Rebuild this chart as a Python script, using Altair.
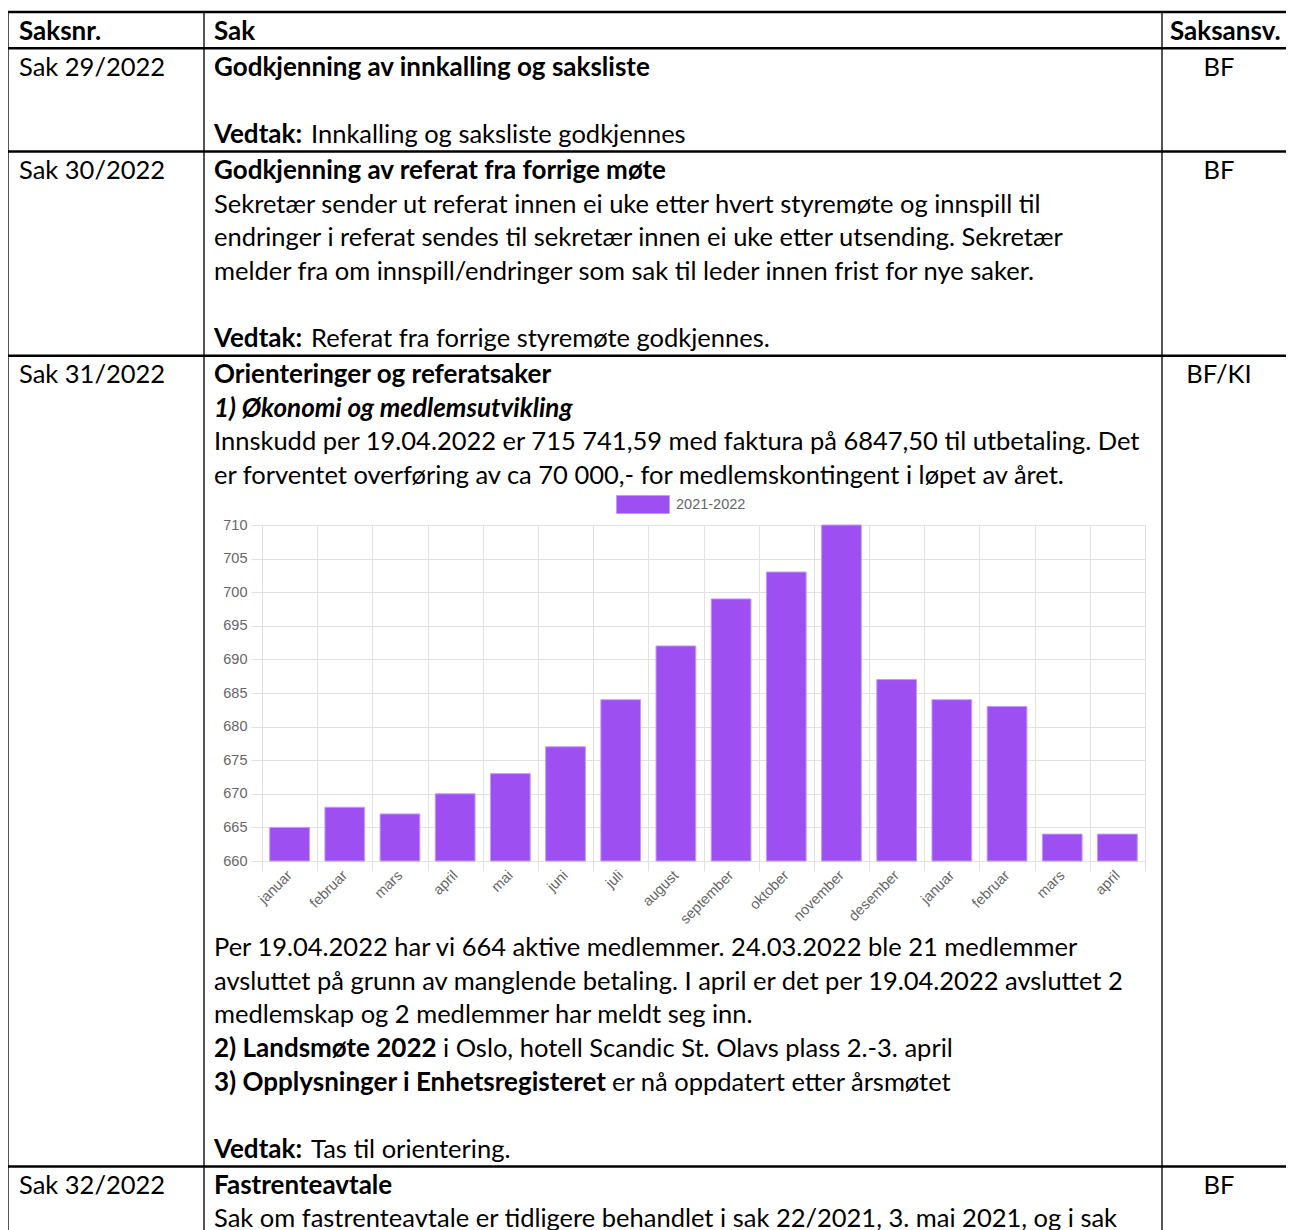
import altair as alt
import pandas as pd

# ------------------------------------------------------------------
# Chart data: members per month (bar chart in the minutes)
# ------------------------------------------------------------------
months = ["januar", "februar", "mars", "april", "mai", "juni", "juli", "august",
          "september", "oktober", "november", "desember",
          "januar", "februar", "mars", "april"]
years = [2021] * 12 + [2022] * 4
members = [665, 668, 667, 670, 673, 677, 684, 692, 699, 703, 710, 687, 684, 683, 664, 664]
series_name = "2021-2022"
y_tick_values = [660, 665, 670, 675, 680, 685, 690, 695, 700, 705, 710]

# ------------------------------------------------------------------
# Document text (table of the minutes)
# ------------------------------------------------------------------
header = ["Saksnr.", "Sak", "Saksansv."]
case_numbers = ["Sak 29/2022", "Sak 30/2022", "Sak 31/2022", "Sak 32/2022"]
case_owners = ["BF", "BF", "BF/KI", "BF"]

row1_lines = [
    [("Godkjenning av innkalling og saksliste", "b")],
    [],
    [("Vedtak:", "b"), ("Innkalling og saksliste godkjennes", "n")],
]
row2_lines = [
    [("Godkjenning av referat fra forrige møte", "b")],
    [("Sekretær sender ut referat innen ei uke etter hvert styremøte og innspill til", "n")],
    [("endringer i referat sendes til sekretær innen ei uke etter utsending. Sekretær", "n")],
    [("melder fra om innspill/endringer som sak til leder innen frist for nye saker.", "n")],
    [],
    [("Vedtak:", "b"), ("Referat fra forrige styremøte godkjennes.", "n")],
]
row3_lines = [
    [("Orienteringer og referatsaker", "b")],
    [("1) Økonomi og medlemsutvikling", "bi")],
    [("Innskudd per 19.04.2022 er 715 741,59 med faktura på 6847,50 til utbetaling. Det", "n")],
    [("er forventet overføring av ca 70 000,- for medlemskontingent i løpet av året.", "n")],
    "CHART",
    [("Per 19.04.2022 har vi 664 aktive medlemmer. 24.03.2022 ble 21 medlemmer", "n")],
    [("avsluttet på grunn av manglende betaling. I april er det per 19.04.2022 avsluttet 2", "n")],
    [("medlemskap og 2 medlemmer har meldt seg inn.", "n")],
    [("2) Landsmøte 2022", "b"), ("i Oslo, hotell Scandic St. Olavs plass 2.-3. april", "n")],
    [("3) Opplysninger i Enhetsregisteret", "b"), ("er nå oppdatert etter årsmøtet", "n")],
    [],
    [("Vedtak:", "b"), ("Tas til orientering.", "n")],
]
row4_lines = [
    [("Fastrenteavtale", "b")],
    [("Sak om fastrenteavtale er tidligere behandlet i sak 22/2021, 3. mai 2021, og i sak", "n")],
]
rows = [row1_lines, row2_lines, row3_lines, row4_lines]

# ------------------------------------------------------------------
# Layout constants (page pixels)
# ------------------------------------------------------------------
PAGE_W, PAGE_H = 1294, 1230
MARGIN = 8
OX, OY = 262, 525          # plot-area origin on the page
PW, PH = 883, 336          # plot-area size
DOC_FONT = "Lato"
DOC_SIZE = 25.5
BOLD_SIZE = 26
PITCH = 33.7
BASE = 26.3
TOP_BORDER = 12
CHART_BLOCK = 438
COL_X = [8, 204, 1162]
TXT_X1, TXT_X2 = 19, 214
OWNER_CX, OWNER_HEAD_X = 1219, 1170
SEG_OFFSET = {"Vedtak:": 97, "2) Landsmøte 2022": 229,
              "3) Opplysninger i Enhetsregisteret": 398}

GRID = "#e2e2e2"
BAR = "#9d4ff1"
BAR_EDGE = "#c29bf6"
AXIS_TXT = "#666666"
AXIS_FONT = "Liberation Sans"

# ------------------------------------------------------------------
# Compute the document layout
# ------------------------------------------------------------------
texts = {"n": [], "b": [], "bi": [], "c": []}
hlines = []


def add(kind, x, y, s):
    texts[kind].append({"x": x - OX, "y": y - OY, "text": s})


hlines.append(TOP_BORDER)
top = TOP_BORDER + 1.25
yb = top + BASE
add("b", TXT_X1, yb, header[0])
add("b", TXT_X2, yb, header[1])
add("b", OWNER_HEAD_X, yb, header[2])
top += PITCH
hlines.append(top + 1.25)
top += 2.5

for r, lines in enumerate(rows):
    first = top + BASE
    add("n", TXT_X1, first, case_numbers[r])
    add("c", OWNER_CX, first, case_owners[r])
    for line in lines:
        if line == "CHART":
            top += CHART_BLOCK
            continue
        yb = top + BASE
        x = TXT_X2
        for seg_text, style in line:
            add(style, x, yb, seg_text)
            x = TXT_X2 + SEG_OFFSET.get(seg_text, 0)
        top += PITCH
    hlines.append(top + 1)
    top += 2

# ------------------------------------------------------------------
# Bar chart
# ------------------------------------------------------------------
df = pd.DataFrame({
    "period": [f"{m} {y}" for m, y in zip(months, years)],
    "members": members,
    "series": series_name,
})

bars = alt.Chart(df).mark_bar(
    width=alt.RelativeBandSize(0.72), stroke=BAR_EDGE, strokeWidth=1
).encode(
    x=alt.X("period:N", sort=None, title=None,
            scale=alt.Scale(paddingInner=0, paddingOuter=0),
            axis=alt.Axis(labelExpr="split(datum.label, ' ')[0]", labelAngle=-45,
                          labelAlign="right", labelBaseline="middle",
                          tickBand="extent", grid=True, gridColor=GRID,
                          ticks=True, tickColor=GRID, tickSize=10, domain=False,
                          labelPadding=2, labelFont=AXIS_FONT, labelFontSize=14.5,
                          labelColor=AXIS_TXT, labelOverlap=False)),
    y=alt.Y("members:Q", title=None,
            scale=alt.Scale(domain=[660, 710], zero=False, nice=False),
            axis=alt.Axis(values=y_tick_values, grid=True, gridColor=GRID,
                          ticks=True, tickColor=GRID, tickSize=11, domain=False,
                          labelPadding=4, labelFont=AXIS_FONT, labelFontSize=14.5,
                          labelColor=AXIS_TXT, labelOverlap=False)),
    y2=alt.datum(660),
    color=alt.Color("series:N", scale=alt.Scale(range=[BAR]),
                    legend=alt.Legend(orient="none", legendX=616 - OX, legendY=504 - 26.5 - OY,
                                      title=None, padding=0,
                                      symbolType="M-1,-0.34L1,-0.34L1,0.34L-1,0.34Z",
                                      symbolSize=2809, symbolStrokeColor=BAR_EDGE,
                                      symbolStrokeWidth=1, symbolOpacity=1,
                                      labelFont=AXIS_FONT, labelFontSize=14.5,
                                      labelColor=AXIS_TXT, labelOffset=6)),
)

# ------------------------------------------------------------------
# Document layers
# ------------------------------------------------------------------
def text_layer(rows_, size, weight="normal", style="normal", align="left"):
    return alt.Chart(pd.DataFrame(rows_)).mark_text(
        align=align, baseline="alphabetic", font=DOC_FONT, fontSize=size,
        fontWeight=weight, fontStyle=style, color="black"
    ).encode(
        x=alt.X("x:Q", scale=None, axis=None),
        y=alt.Y("y:Q", scale=None, axis=None),
        text="text:N",
    )


SVG_W = PAGE_W - 2 * MARGIN
h_df = pd.DataFrame({"x": [COL_X[0] - OX] * len(hlines), "x2": [PAGE_W - OX] * len(hlines),
                     "y": [h - OY for h in hlines], "y2": [h - OY for h in hlines]})
v_df = pd.DataFrame({"x": [c - OX for c in COL_X], "x2": [c - OX for c in COL_X],
                     "y": [TOP_BORDER - OY] * 3, "y2": [PAGE_H - OY] * 3})


def rule_layer(d, width, color):
    return alt.Chart(d).mark_rule(strokeWidth=width, color=color).encode(
        x=alt.X("x:Q", scale=None, axis=None), x2="x2:Q",
        y=alt.Y("y:Q", scale=None, axis=None), y2="y2:Q",
    )


layers = [
    rule_layer(v_df, 1.6, "#2a2a2a"),
    rule_layer(h_df, 2.4, "#000000"),
    text_layer(texts["n"], DOC_SIZE),
    text_layer(texts["b"], BOLD_SIZE, weight="bold"),
    text_layer(texts["bi"], BOLD_SIZE, weight="bold", style="italic"),
    text_layer(texts["c"], DOC_SIZE, align="center"),
    bars,
]

chart = alt.layer(*layers).properties(
    width=PW, height=PH,
    autosize=alt.AutoSizeParams(type="none"),
    padding={"left": OX - MARGIN, "top": OY - MARGIN,
             "right": SVG_W - (OX - MARGIN) - PW,
             "bottom": PAGE_H - MARGIN - (OY - MARGIN) - PH},
    background="white",
).configure_view(stroke=GRID, strokeWidth=1)

chart.save("out.html", embed_options={"renderer": "svg", "actions": False})
